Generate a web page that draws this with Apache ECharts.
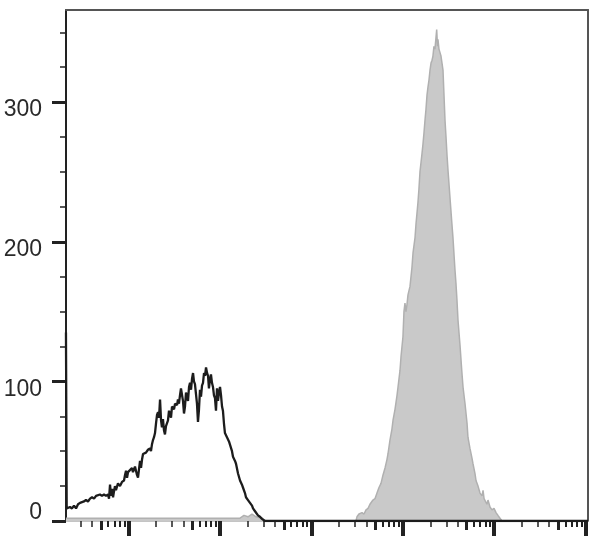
<!DOCTYPE html>
<html>
<head>
<meta charset="utf-8">
<script src="https://cdn.jsdelivr.net/npm/echarts@6/dist/echarts.min.js"></script>
<style>
  html, body { margin: 0; padding: 0; background: #fff; }
  #chart { width: 608px; height: 545px; }
</style>
</head>
<body>
<div id="chart"></div>
<script>
// X positions are in decades (log10 of fluorescence intensity); Y values are event counts.
var xRange = [0.3164, 6.026];
var yRange = [0, 366];
var yTickLabels = [0, 100, 200, 300];
var yMinorTicks = [25, 50, 75, 125, 150, 175, 225, 250, 275, 325, 350];
var decadeTicks = [1, 2, 3, 4, 5, 6];

// Unstained / control histogram (black outline)
var controlX = [0.316,0.324,0.338,0.360,0.382,0.404,0.426,0.448,0.470,0.491,0.513,0.535,0.557,0.579,0.601,0.623,0.645,0.666,0.688,0.710,0.732,0.754,0.776,0.787,0.798,0.809,0.820,0.831,0.841,0.852,0.863,0.885,0.907,0.929,0.951,0.962,0.973,0.984,0.995,1.016,1.038,1.049,1.071,1.093,1.104,1.126,1.137,1.148,1.159,1.170,1.191,1.213,1.235,1.246,1.257,1.268,1.279,1.290,1.301,1.312,1.323,1.334,1.345,1.356,1.366,1.377,1.388,1.399,1.410,1.432,1.443,1.454,1.465,1.476,1.498,1.509,1.531,1.541,1.552,1.563,1.574,1.585,1.596,1.607,1.618,1.629,1.640,1.651,1.662,1.673,1.684,1.695,1.706,1.716,1.727,1.738,1.749,1.760,1.771,1.782,1.793,1.804,1.815,1.826,1.837,1.848,1.859,1.870,1.880,1.891,1.902,1.913,1.924,1.935,1.946,1.957,1.968,1.979,1.990,2.001,2.012,2.023,2.033,2.044,2.055,2.077,2.099,2.110,2.132,2.143,2.165,2.176,2.198,2.220,2.241,2.252,2.274,2.285,2.307,2.329,2.351,2.362,2.384,2.395,2.416,2.438,2.460,2.471,2.492,6.026];
var controlCounts = [135,9,8,10,9,11,9,12,13,12,14,15,14,16,17,16,18,17,19,18,19,18,19,16,26,18,23,17,21,25,22,27,25,28,29,33,36,31,35,34,38,35,39,33,31,43,38,44,48,47,49,51,52,50,55,58,60,63,70,76,78,74,87,72,67,73,65,62,68,72,79,78,74,82,80,84,83,87,84,90,95,94,86,77,82,92,89,86,96,99,94,102,106,100,98,91,84,71,80,94,89,97,99,106,104,110,106,104,95,101,105,99,96,90,88,79,95,86,92,96,90,82,79,70,63,60,57,56,50,46,43,41,34,29,26,24,20,17,15,13,11,9,7,5.6,4,3,1.5,0.7,0,0];

// Stained sample histogram (grey filled)
var stainedX = [0.316,0.688,1.235,1.782,2.220,2.263,2.307,2.351,2.395,2.460,2.504,3.488,3.499,3.521,3.554,3.576,3.598,3.620,3.641,3.674,3.696,3.718,3.740,3.762,3.784,3.806,3.827,3.838,3.860,3.882,3.893,3.915,3.937,3.948,3.970,3.981,4.002,4.013,4.024,4.035,4.046,4.057,4.079,4.101,4.112,4.134,4.145,4.166,4.177,4.188,4.210,4.221,4.232,4.243,4.254,4.265,4.276,4.287,4.298,4.309,4.320,4.330,4.341,4.352,4.363,4.371,4.380,4.385,4.396,4.407,4.418,4.429,4.440,4.451,4.462,4.473,4.484,4.495,4.516,4.535,4.549,4.571,4.582,4.593,4.604,4.626,4.645,4.659,4.681,4.703,4.713,4.735,4.757,4.768,4.790,4.801,4.823,4.845,4.867,4.878,4.889,4.899,4.921,4.932,4.954,4.976,4.998,5.020,5.041,5.063,5.085,6.026];
var stainedCounts = [2,2,2,2,2,4,3,5,3,2,0,0,3,5,6,5,8,9,12,15,16,20,24,27,33,38,44,48,58,66,72,80,90,96,108,118,132,150,156,150,155,162,168,182,192,203,213,228,238,250,263,270,278,287,295,305,311,316,323,328,330,333,340,338,346,352,340,345,338,339,333,328,323,305,287,275,262,251,232,215,203,180,170,158,144,126,108,96,84,70,60,52,45,41,34,29,25,20,18,22,16,15,12,15,10,8,9,6,4,2,0,0];

function pairs(xs, ys) {
  var out = [];
  for (var i = 0; i < xs.length; i++) out.push([xs[i], ys[i]]);
  return out;
}
var minorMultipliers = { fives: [5], sixToNine: [6, 7, 8, 9], twoToFour: [2, 3, 4] };
function minorTicks(mults) {
  var out = [];
  for (var k = 0; k <= 6; k++) {
    mults.forEach(function (m) {
      var v = k + Math.log10(m);
      if (v > xRange[0] && v < xRange[1]) out.push(v);
    });
  }
  return out;
}

var chart = echarts.init(document.getElementById('chart'), null, { renderer: 'canvas' });
var fontFamily = '"Liberation Sans", Arial, sans-serif';
function tickAxis(values, len, width) {
  return {
    type: 'value', gridIndex: 0, position: 'bottom', min: xRange[0], max: xRange[1],
    axisLine: { show: false }, axisLabel: { show: false }, splitLine: { show: false },
    axisTick: { show: true, customValues: values, length: len, lineStyle: { color: '#222', width: width } }
  };
}
var option = {
  animation: false,
  backgroundColor: '#fff',
  grid: { left: 66, right: 20, top: 10, bottom: 24, containLabel: false, outerBoundsMode: 'none' },
  xAxis: [
    {
      type: 'value', gridIndex: 0, position: 'bottom', min: xRange[0], max: xRange[1],
      axisLine: { show: true, lineStyle: { color: '#c4c4c4', width: 1 } },
      axisTick: { show: false }, axisLabel: { show: false }, splitLine: { show: false }
    },
    tickAxis(decadeTicks, 15, 4),
    tickAxis(minorTicks(minorMultipliers.fives), 9, 3),
    tickAxis(minorTicks(minorMultipliers.sixToNine), 6, 2),
    tickAxis(minorTicks(minorMultipliers.twoToFour), 6, 1.5),
    {
      type: 'value', gridIndex: 0, position: 'top', min: xRange[0], max: xRange[1],
      axisLine: { show: true, lineStyle: { color: '#555', width: 2 } },
      axisTick: { show: false }, axisLabel: { show: false }, splitLine: { show: false }
    }
  ],
  yAxis: [
    {
      type: 'value', gridIndex: 0, position: 'left', min: yRange[0], max: yRange[1],
      axisLine: { show: true, lineStyle: { color: '#222', width: 2 } },
      axisTick: { show: true, customValues: yTickLabels, length: 14, lineStyle: { color: '#222', width: 3 } },
      axisLabel: {
        show: true, customValues: yTickLabels, margin: 24,
        formatter: function (v) { return v === 0 ? '{b|' + v + '}' : '{t|' + v + '}'; },
        rich: {
          t: { fontFamily: fontFamily, fontSize: 23, color: '#2a2a2a', padding: [16, 0, 0, 0] },
          b: { fontFamily: fontFamily, fontSize: 23, color: '#2a2a2a', padding: [0, 0, 16, 0] }
        }
      },
      splitLine: { show: false }
    },
    {
      type: 'value', gridIndex: 0, position: 'left', min: yRange[0], max: yRange[1],
      axisLine: { show: false }, axisLabel: { show: false }, splitLine: { show: false },
      axisTick: { show: true, customValues: yMinorTicks, length: 6, lineStyle: { color: '#222', width: 1.5 } }
    },
    {
      type: 'value', gridIndex: 0, position: 'right', min: yRange[0], max: yRange[1],
      axisLine: { show: true, lineStyle: { color: '#555', width: 2 } },
      axisTick: { show: false }, axisLabel: { show: false }, splitLine: { show: false }
    }
  ],
  series: [
    {
      name: 'Stained', type: 'line', xAxisIndex: 0, yAxisIndex: 0,
      data: pairs(stainedX, stainedCounts), symbol: 'none', silent: true,
      lineStyle: { color: '#b0b0b0', width: 1.5 },
      areaStyle: { color: '#c9c9c9', opacity: 1 }
    },
    {
      name: 'Control', type: 'line', xAxisIndex: 0, yAxisIndex: 0,
      data: pairs(controlX, controlCounts), symbol: 'none', silent: true,
      lineStyle: { color: '#1c1c1c', width: 2.3 }
    }
  ]
};
chart.setOption(option);
</script>
</body>
</html>
